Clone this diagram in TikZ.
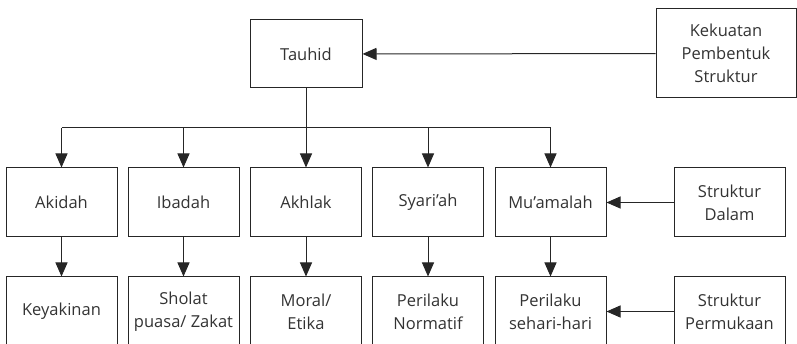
\documentclass[tikz,border=0pt]{standalone}
\usepackage{fontspec}
\setmainfont{Open Sans}
\usetikzlibrary{positioning,arrows.meta}

\begin{document}
\begin{tikzpicture}[x=1pt,y=-1pt,>={Triangle[width=12pt,length=14pt]},
	every node/.style={draw=black!85,line width=1pt,align=center,text=black!80,
	font=\fontsize{16.5}{23}\selectfont,inner sep=0pt,minimum width=111,minimum height=69}]
			\useasboundingbox (0,0) rectangle (797,344);
			\clip (0,0) rectangle (797,344);
			\node [minimum width=112, minimum height=68] (n1) at (306,54) {Tauhid};
			\node [minimum width=140, minimum height=89] (n0) at (726,53.5) {Kekuatan\\Pembentuk\\Struktur};

			\node (n2) at (61.5,202.5) {Akidah};
			\node (n3) at (183.5,202.5) {Ibadah};
			\node (n4) at (306,202.5) {Akhlak};
			\node (n5) at (428,202.5) {Syari'ah};
			\node (n6) at (550.5,202.5) {Mu'amalah};
			\node (s1) at (729.5,202.5) {Struktur\\Dalam};

			\node (m2) at (61.5,311.5) {Keyakinan};
			\node (m3) at (183.5,311.5) {Sholat\\puasa/ Zakat};
			\node (m4) at (306,311.5) {Moral/\\Etika};
			\node (m5) at (428,311.5) {Perilaku\\Normatif};
			\node (m6) at (550.5,311.5) {Perilaku\\sehari-hari};
			\node (s2) at (729.5,311.5) {Struktur\\Permukaan};

			\coordinate (j) at (306,128);

			\draw[->,line width=1pt,black!85] (n0) -- (n1);
			\draw[line width=1pt,black!85] (n1) -- (j);
			\draw[line width=1pt,black!85] (n2 |- j) -- (n6 |- j);
			\draw[->,line width=1pt,black!85] (n2 |- j) -- (n2);
			\draw[->,line width=1pt,black!85] (n3 |- j) -- (n3);
			\draw[->,line width=1pt,black!85] (j) -- (n4);
			\draw[->,line width=1pt,black!85] (n5 |- j) -- (n5);
			\draw[->,line width=1pt,black!85] (n6 |- j) -- (n6);

			\draw[->,line width=1pt,black!85] (n2) -- (m2);
			\draw[->,line width=1pt,black!85] (n3) -- (m3);
			\draw[->,line width=1pt,black!85] (n4) -- (m4);
			\draw[->,line width=1pt,black!85] (n5) -- (m5);
			\draw[->,line width=1pt,black!85] (n6) -- (m6);
			\draw[->,line width=1pt,black!85] (s1) -- (n6);
			\draw[->,line width=1pt,black!85] (s2) -- (m6);
		\end{tikzpicture}
\end{document}
